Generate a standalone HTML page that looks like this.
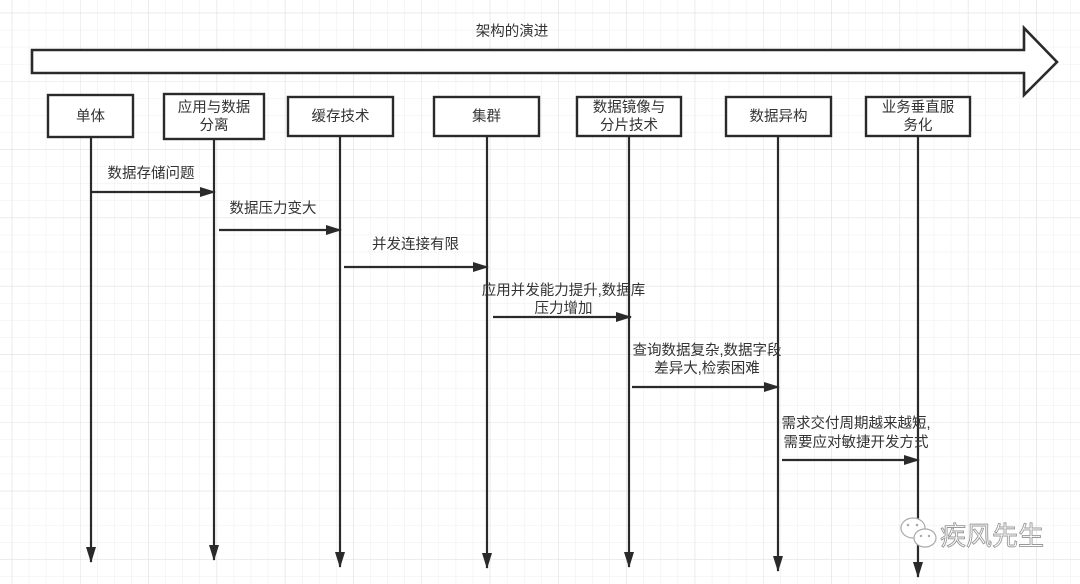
<!DOCTYPE html>
<html>
<head>
<meta charset="utf-8">
<style>
html,body{margin:0;padding:0;background:#fff;}
body{width:1080px;height:584px;overflow:hidden;}
svg{display:block;}
text{font-family:"Liberation Sans","Noto Sans CJK SC",sans-serif;fill:#333;}
</style>
</head>
<body>
<svg width="1080" height="584" viewBox="0 0 1080 584" xmlns="http://www.w3.org/2000/svg">
  <defs>
    <pattern id="minor" x="11.7" y="12.7" width="17.075" height="17.075" patternUnits="userSpaceOnUse">
      <path d="M0 0 H17.075 M0 0 V17.075" stroke="#ededed" stroke-width="1" fill="none"/>
    </pattern>
    <pattern id="major" x="11.7" y="12.7" width="68.3" height="68.3" patternUnits="userSpaceOnUse">
      <path d="M0 0 H68.3 M0 0 V68.3" stroke="#e0e0e0" stroke-width="1" fill="none"/>
    </pattern>
    <marker id="ah" markerWidth="16" markerHeight="10" refX="15" refY="5" orient="auto" markerUnits="userSpaceOnUse">
      <path d="M0 0 L16 5 L0 10 Z" fill="#2a2a2a"/>
    </marker>
  </defs>
  <rect width="1080" height="584" fill="#fff"/>
  <rect width="1080" height="584" fill="url(#minor)"/>
  <rect width="1080" height="584" fill="url(#major)"/>

  <!-- title -->
  <text x="512" y="36" font-size="14.5" text-anchor="middle">架构的演进</text>

  <!-- big arrow -->
  <polygon points="32,50 1024,50 1024,28 1057,62 1024,95 1024,73 32,73" fill="#fff" stroke="#2a2a2a" stroke-width="2.6" stroke-linejoin="miter"/>

  <!-- lifelines -->
  <g stroke="#2a2a2a" stroke-width="2.2" marker-end="url(#ah)">
    <line x1="91" y1="137" x2="91" y2="562"/>
    <line x1="214" y1="139" x2="214" y2="560"/>
    <line x1="340" y1="136" x2="340" y2="567"/>
    <line x1="487" y1="136" x2="487" y2="568"/>
    <line x1="629" y1="136" x2="629" y2="567"/>
    <line x1="778" y1="136" x2="778" y2="571"/>
    <line x1="918" y1="136" x2="918" y2="577"/>
  </g>

  <!-- boxes -->
  <g fill="#fff" stroke="#2a2a2a" stroke-width="2.4">
    <rect x="48" y="95" width="85" height="42"/>
    <rect x="164" y="94" width="100" height="45"/>
    <rect x="288" y="97" width="105" height="39"/>
    <rect x="434" y="97" width="105" height="39"/>
    <rect x="577" y="97" width="104" height="39"/>
    <rect x="726" y="97" width="105" height="39"/>
    <rect x="866" y="97" width="104" height="39"/>
  </g>
  <g font-size="14.5" text-anchor="middle">
    <text x="90.5" y="121">单体</text>
    <text x="214" y="112">应用与数据</text>
    <text x="214" y="130">分离</text>
    <text x="340.5" y="121">缓存技术</text>
    <text x="486.5" y="121">集群</text>
    <text x="629" y="112">数据镜像与</text>
    <text x="629" y="130">分片技术</text>
    <text x="778.5" y="121">数据异构</text>
    <text x="918" y="112">业务垂直服</text>
    <text x="918" y="130">务化</text>
  </g>

  <!-- messages -->
  <g stroke="#2a2a2a" stroke-width="2.2" marker-end="url(#ah)">
    <line x1="91" y1="192" x2="215" y2="192"/>
    <line x1="219" y1="230" x2="341" y2="230"/>
    <line x1="344" y1="267" x2="488" y2="267"/>
    <line x1="493" y1="317" x2="631" y2="317"/>
    <line x1="632" y1="387" x2="779" y2="387"/>
    <line x1="782" y1="460" x2="919" y2="460"/>
  </g>
  <g font-size="14.5" text-anchor="middle">
    <text x="151" y="178">数据存储问题</text>
    <text x="273" y="213">数据压力变大</text>
    <text x="415.5" y="249">并发连接有限</text>
    <text x="563.5" y="295">应用并发能力提升,数据库</text>
    <text x="563.5" y="313">压力增加</text>
    <text x="707" y="355">查询数据复杂,数据字段</text>
    <text x="707" y="373">差异大,检索困难</text>
    <text x="856" y="428">需求交付周期越来越短,</text>
    <text x="856" y="447">需要应对敏捷开发方式</text>
  </g>

  <!-- watermark -->
  <g fill="#fff" stroke="#aaa" stroke-width="1.2">
    <ellipse cx="913" cy="528" rx="12" ry="10"/>
    <ellipse cx="925" cy="538" rx="11" ry="9"/>
  </g>
  <g fill="#aaa">
    <circle cx="908" cy="525" r="1.3"/>
    <circle cx="917" cy="525" r="1.3"/>
    <circle cx="921" cy="536" r="1.2"/>
    <circle cx="929" cy="536" r="1.2"/>
  </g>
  <text x="940" y="545" font-size="26" style="fill:#fff;stroke:#999;stroke-width:0.9;">疾风先生</text>
</svg>
</body>
</html>
